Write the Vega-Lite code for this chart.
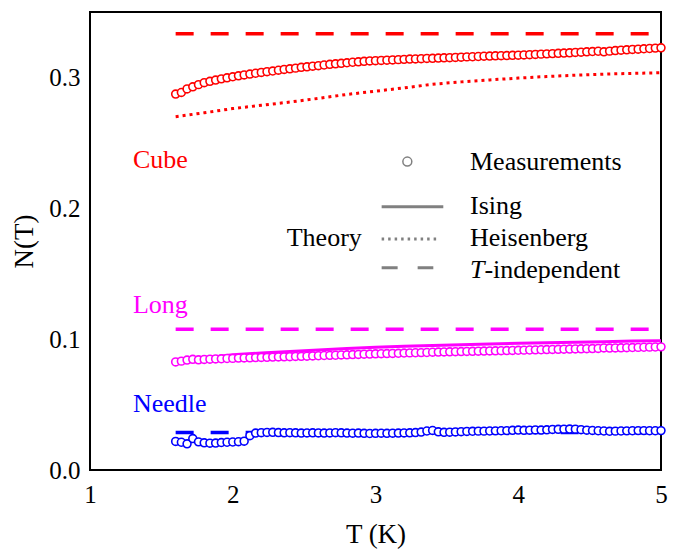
{
  "$schema": "https://vega.github.io/schema/vega-lite/v6.json",
  "width": 571,
  "height": 458,
  "autosize": {"type": "none"},
  "padding": {"left": 90, "top": 12, "right": 17, "bottom": 83},
  "background": "white",
  "config": {
    "view": {"stroke": "black", "strokeWidth": 2},
    "axis": {
      "domain": false, "grid": false,
      "labelFont": "Times New Roman", "labelFontSize": 25, "labelColor": "black",
      "labelFlush": false, "labelOverlap": false,
      "titleFont": "Times New Roman", "titleFontSize": 27, "titleFontWeight": "normal", "titleColor": "black",
      "tickColor": "black", "tickWidth": 2
    }
  },
  "datasets": {
    "meas": [
      {"T":1.60,"Cube":0.2873,"Long":0.0826,"Needle":0.0218},
      {"T":1.64,"Cube":0.2885,"Long":0.0832,"Needle":0.0212},
      {"T":1.68,"Cube":0.2912,"Long":0.0840,"Needle":0.0200},
      {"T":1.72,"Cube":0.2928,"Long":0.0846,"Needle":0.0240},
      {"T":1.76,"Cube":0.2945,"Long":0.0842,"Needle":0.0215},
      {"T":1.80,"Cube":0.2960,"Long":0.0845,"Needle":0.0208},
      {"T":1.84,"Cube":0.2970,"Long":0.0847,"Needle":0.0205},
      {"T":1.88,"Cube":0.2980,"Long":0.0849,"Needle":0.0206},
      {"T":1.92,"Cube":0.2989,"Long":0.0850,"Needle":0.0210},
      {"T":1.96,"Cube":0.2997,"Long":0.0852,"Needle":0.0212},
      {"T":2.00,"Cube":0.3005,"Long":0.0853,"Needle":0.0214},
      {"T":2.04,"Cube":0.3012,"Long":0.0855,"Needle":0.0216},
      {"T":2.08,"Cube":0.3019,"Long":0.0856,"Needle":0.0220},
      {"T":2.12,"Cube":0.3026,"Long":0.0857,"Needle":0.0262},
      {"T":2.16,"Cube":0.3032,"Long":0.0859,"Needle":0.0282},
      {"T":2.20,"Cube":0.3038,"Long":0.0860,"Needle":0.0285},
      {"T":2.24,"Cube":0.3044,"Long":0.0861,"Needle":0.0287},
      {"T":2.28,"Cube":0.3049,"Long":0.0863,"Needle":0.0288},
      {"T":2.32,"Cube":0.3055,"Long":0.0864,"Needle":0.0286},
      {"T":2.36,"Cube":0.3061,"Long":0.0865,"Needle":0.0284},
      {"T":2.40,"Cube":0.3066,"Long":0.0866,"Needle":0.0285},
      {"T":2.44,"Cube":0.3071,"Long":0.0868,"Needle":0.0284},
      {"T":2.48,"Cube":0.3077,"Long":0.0869,"Needle":0.0282},
      {"T":2.52,"Cube":0.3081,"Long":0.0870,"Needle":0.0283},
      {"T":2.56,"Cube":0.3086,"Long":0.0872,"Needle":0.0284},
      {"T":2.60,"Cube":0.3090,"Long":0.0873,"Needle":0.0283},
      {"T":2.64,"Cube":0.3095,"Long":0.0875,"Needle":0.0282},
      {"T":2.68,"Cube":0.3100,"Long":0.0876,"Needle":0.0283},
      {"T":2.72,"Cube":0.3104,"Long":0.0877,"Needle":0.0285},
      {"T":2.76,"Cube":0.3108,"Long":0.0879,"Needle":0.0284},
      {"T":2.80,"Cube":0.3112,"Long":0.0880,"Needle":0.0282},
      {"T":2.84,"Cube":0.3116,"Long":0.0882,"Needle":0.0281},
      {"T":2.88,"Cube":0.3119,"Long":0.0883,"Needle":0.0282},
      {"T":2.92,"Cube":0.3123,"Long":0.0885,"Needle":0.0280},
      {"T":2.96,"Cube":0.3126,"Long":0.0886,"Needle":0.0279},
      {"T":3.00,"Cube":0.3128,"Long":0.0888,"Needle":0.0280},
      {"T":3.04,"Cube":0.3130,"Long":0.0889,"Needle":0.0281},
      {"T":3.08,"Cube":0.3132,"Long":0.0890,"Needle":0.0280},
      {"T":3.12,"Cube":0.3134,"Long":0.0891,"Needle":0.0281},
      {"T":3.16,"Cube":0.3136,"Long":0.0892,"Needle":0.0282},
      {"T":3.20,"Cube":0.3138,"Long":0.0894,"Needle":0.0283},
      {"T":3.24,"Cube":0.3140,"Long":0.0895,"Needle":0.0284},
      {"T":3.28,"Cube":0.3141,"Long":0.0896,"Needle":0.0286},
      {"T":3.32,"Cube":0.3143,"Long":0.0897,"Needle":0.0290},
      {"T":3.36,"Cube":0.3145,"Long":0.0898,"Needle":0.0298},
      {"T":3.40,"Cube":0.3146,"Long":0.0900,"Needle":0.0302},
      {"T":3.44,"Cube":0.3148,"Long":0.0901,"Needle":0.0292},
      {"T":3.48,"Cube":0.3150,"Long":0.0902,"Needle":0.0288},
      {"T":3.52,"Cube":0.3151,"Long":0.0903,"Needle":0.0289},
      {"T":3.56,"Cube":0.3153,"Long":0.0904,"Needle":0.0291},
      {"T":3.60,"Cube":0.3155,"Long":0.0905,"Needle":0.0293},
      {"T":3.64,"Cube":0.3157,"Long":0.0906,"Needle":0.0295},
      {"T":3.68,"Cube":0.3158,"Long":0.0907,"Needle":0.0296},
      {"T":3.72,"Cube":0.3160,"Long":0.0908,"Needle":0.0297},
      {"T":3.76,"Cube":0.3162,"Long":0.0909,"Needle":0.0297},
      {"T":3.80,"Cube":0.3163,"Long":0.0910,"Needle":0.0298},
      {"T":3.84,"Cube":0.3165,"Long":0.0911,"Needle":0.0299},
      {"T":3.88,"Cube":0.3166,"Long":0.0912,"Needle":0.0300},
      {"T":3.92,"Cube":0.3167,"Long":0.0913,"Needle":0.0301},
      {"T":3.96,"Cube":0.3169,"Long":0.0914,"Needle":0.0303},
      {"T":4.00,"Cube":0.3170,"Long":0.0915,"Needle":0.0305},
      {"T":4.04,"Cube":0.3172,"Long":0.0916,"Needle":0.0303},
      {"T":4.08,"Cube":0.3174,"Long":0.0917,"Needle":0.0304},
      {"T":4.12,"Cube":0.3176,"Long":0.0918,"Needle":0.0306},
      {"T":4.16,"Cube":0.3178,"Long":0.0919,"Needle":0.0305},
      {"T":4.20,"Cube":0.3180,"Long":0.0920,"Needle":0.0307},
      {"T":4.24,"Cube":0.3182,"Long":0.0921,"Needle":0.0310},
      {"T":4.28,"Cube":0.3184,"Long":0.0922,"Needle":0.0311},
      {"T":4.32,"Cube":0.3186,"Long":0.0923,"Needle":0.0312},
      {"T":4.36,"Cube":0.3188,"Long":0.0924,"Needle":0.0313},
      {"T":4.40,"Cube":0.3191,"Long":0.0925,"Needle":0.0312},
      {"T":4.44,"Cube":0.3193,"Long":0.0926,"Needle":0.0308},
      {"T":4.48,"Cube":0.3196,"Long":0.0927,"Needle":0.0304},
      {"T":4.52,"Cube":0.3198,"Long":0.0928,"Needle":0.0302},
      {"T":4.56,"Cube":0.3200,"Long":0.0929,"Needle":0.0300},
      {"T":4.60,"Cube":0.3196,"Long":0.0933,"Needle":0.0298},
      {"T":4.64,"Cube":0.3201,"Long":0.0932,"Needle":0.0296},
      {"T":4.68,"Cube":0.3205,"Long":0.0933,"Needle":0.0297},
      {"T":4.72,"Cube":0.3208,"Long":0.0934,"Needle":0.0298},
      {"T":4.76,"Cube":0.3211,"Long":0.0935,"Needle":0.0299},
      {"T":4.80,"Cube":0.3214,"Long":0.0936,"Needle":0.0300},
      {"T":4.84,"Cube":0.3216,"Long":0.0937,"Needle":0.0301},
      {"T":4.88,"Cube":0.3219,"Long":0.0938,"Needle":0.0301},
      {"T":4.92,"Cube":0.3221,"Long":0.0939,"Needle":0.0300},
      {"T":4.96,"Cube":0.3224,"Long":0.0940,"Needle":0.0300},
      {"T":5.00,"Cube":0.3226,"Long":0.0941,"Needle":0.0301}
    ],
    "ising": [
      {"T":1.6,"Cube":0.2875,"Long":0.0835},
      {"T":1.8,"Cube":0.2955,"Long":0.0856},
      {"T":2.0,"Cube":0.3003,"Long":0.0880},
      {"T":2.2,"Cube":0.3037,"Long":0.0894},
      {"T":2.4,"Cube":0.3065,"Long":0.0906},
      {"T":2.6,"Cube":0.3089,"Long":0.0917},
      {"T":2.8,"Cube":0.3110,"Long":0.0928},
      {"T":3.0,"Cube":0.3127,"Long":0.0938},
      {"T":3.2,"Cube":0.3141,"Long":0.0945},
      {"T":3.4,"Cube":0.3153,"Long":0.0952},
      {"T":3.6,"Cube":0.3164,"Long":0.0958},
      {"T":3.8,"Cube":0.3174,"Long":0.0963},
      {"T":4.0,"Cube":0.3183,"Long":0.0968},
      {"T":4.2,"Cube":0.3191,"Long":0.0973},
      {"T":4.4,"Cube":0.3199,"Long":0.0977},
      {"T":4.6,"Cube":0.3206,"Long":0.0981},
      {"T":4.8,"Cube":0.3213,"Long":0.0985},
      {"T":5.0,"Cube":0.3220,"Long":0.0988}
    ],
    "heis": [
      {"T":1.6,"N":0.2700},{"T":1.8,"N":0.2730},{"T":2.0,"N":0.2762},{"T":2.2,"N":0.2787},
      {"T":2.4,"N":0.2812},{"T":2.6,"N":0.2840},{"T":2.8,"N":0.2870},{"T":3.0,"N":0.2895},
      {"T":3.2,"N":0.2920},{"T":3.4,"N":0.2948},{"T":3.6,"N":0.2966},{"T":3.8,"N":0.2981},
      {"T":4.0,"N":0.2995},{"T":4.2,"N":0.3007},{"T":4.4,"N":0.3017},{"T":4.6,"N":0.3025},
      {"T":4.8,"N":0.3031},{"T":5.0,"N":0.3036}
    ],
    "dash": [
      {"sample":"Cube","N":0.3333,"T0":1.6,"T1":5},
      {"sample":"Long","N":0.1076,"T0":1.6,"T1":5},
      {"sample":"Needle","N":0.0287,"T0":1.6,"T1":5}
    ],
    "samplelabels": [
      {"label":"Cube","sample":"Cube","T":1.301,"N":0.2308},
      {"label":"Long","sample":"Long","T":1.301,"N":0.1200},
      {"label":"Needle","sample":"Needle","T":1.301,"N":0.0443}
    ],
    "legtext": [
      {"label":"Measurements","T":3.662,"N":0.2293},
      {"label":"Ising","T":3.662,"N":0.1959},
      {"label":"Heisenberg","T":3.662,"N":0.1708},
      {"label":"-independent","T":3.763,"N":0.1467},
      {"label":"Theory","T":2.378,"N":0.1708}
    ],
    "legT": [{"label":"T","T":3.662,"N":0.1467}],
    "leglines": [
      {"model":"Ising","T0":3.043,"T1":3.475,"N":0.2012},
      {"model":"Heisenberg","T0":3.043,"T1":3.440,"N":0.1765},
      {"model":"T-independent","T0":3.043,"T1":3.405,"N":0.1546}
    ],
    "legpt": [{"T":3.223,"N":0.2357}]
  },
  "layer": [
    {
      "data": {"name": "dash"},
      "mark": {"type": "rule", "strokeDash": [18, 17], "strokeWidth": 3.5},
      "encoding": {
        "x": {"field": "T0", "type": "quantitative", "scale": {"domain": [1, 5]},
          "axis": {"orient": "bottom", "values": [1,2,3,4,5], "format": "d", "ticks": false, "labelPadding": 12, "title": "T (K)", "titlePadding": 14}},
        "x2": {"field": "T1"},
        "y": {"field": "N", "type": "quantitative", "scale": {"domain": [0, 0.35]},
          "axis": {"orient": "left", "values": [0, 0.1, 0.2, 0.3], "format": ".1f", "ticks": false, "labelPadding": 10, "title": "N(T)", "titlePadding": 10}},
        "color": {"field": "sample", "type": "nominal", "legend": null,
          "scale": {"domain": ["Cube", "Long", "Needle"], "range": ["#ff0000", "#ff00ff", "#0000ff"]}}
      }
    },
    {
      "data": {"name": "heis"},
      "mark": {"type": "line", "color": "#ff0000", "strokeDash": [3, 4], "strokeWidth": 3},
      "encoding": {
        "x": {"field": "T", "type": "quantitative"},
        "y": {"field": "N", "type": "quantitative"}
      }
    },
    {
      "data": {"name": "ising"},
      "transform": [{"fold": ["Cube", "Long"], "as": ["sample", "N"]}],
      "mark": {"type": "line", "strokeWidth": 3},
      "encoding": {
        "x": {"field": "T", "type": "quantitative"},
        "y": {"field": "N", "type": "quantitative"},
        "color": {"field": "sample", "type": "nominal", "legend": null}
      }
    },
    {
      "data": {"name": "meas"},
      "transform": [{"fold": ["Cube", "Long", "Needle"], "as": ["sample", "N"]}],
      "mark": {"type": "point", "shape": "circle", "filled": false, "fill": "white", "fillOpacity": 1, "opacity": 1, "size": 62, "strokeWidth": 1.6},
      "encoding": {
        "x": {"field": "T", "type": "quantitative"},
        "y": {"field": "N", "type": "quantitative"},
        "color": {"field": "sample", "type": "nominal", "legend": null}
      }
    },
    {
      "data": {"name": "leglines"},
      "mark": {"type": "rule", "color": "#808080", "strokeWidth": 3},
      "encoding": {
        "x": {"field": "T0", "type": "quantitative"},
        "x2": {"field": "T1"},
        "y": {"field": "N", "type": "quantitative"},
        "strokeDash": {"field": "model", "type": "nominal", "legend": null,
          "scale": {"domain": ["Ising", "Heisenberg", "T-independent"], "range": [[1, 0], [2.5, 4], [16, 20]]}}
      }
    },
    {
      "data": {"name": "legpt"},
      "mark": {"type": "point", "shape": "circle", "filled": false, "color": "#808080", "opacity": 1, "size": 80, "strokeWidth": 1.5},
      "encoding": {
        "x": {"field": "T", "type": "quantitative"},
        "y": {"field": "N", "type": "quantitative"}
      }
    },
    {
      "data": {"name": "samplelabels"},
      "mark": {"type": "text", "align": "left", "baseline": "alphabetic", "fontSize": 26, "font": "Times New Roman"},
      "encoding": {
        "x": {"field": "T", "type": "quantitative"},
        "y": {"field": "N", "type": "quantitative"},
        "text": {"field": "label"},
        "color": {"field": "sample", "type": "nominal", "legend": null}
      }
    },
    {
      "data": {"name": "legtext"},
      "mark": {"type": "text", "align": "left", "baseline": "alphabetic", "fontSize": 26, "font": "Times New Roman", "color": "black"},
      "encoding": {
        "x": {"field": "T", "type": "quantitative"},
        "y": {"field": "N", "type": "quantitative"},
        "text": {"field": "label"}
      }
    },
    {
      "data": {"name": "legT"},
      "mark": {"type": "text", "align": "left", "baseline": "alphabetic", "fontSize": 26, "font": "Times New Roman", "fontStyle": "italic", "color": "black"},
      "encoding": {
        "x": {"field": "T", "type": "quantitative"},
        "y": {"field": "N", "type": "quantitative"},
        "text": {"field": "label"}
      }
    }
  ]
}
